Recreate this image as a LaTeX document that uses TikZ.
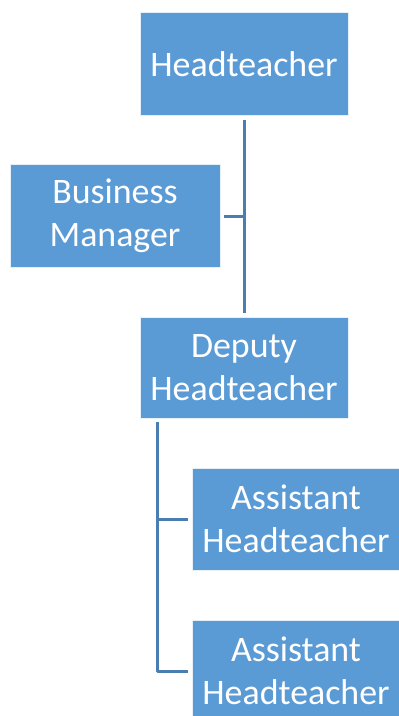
\documentclass[tikz,border=0pt]{standalone}
\usepackage{fontspec}
\setmainfont{Carlito}
\usepackage{tikz}
\usetikzlibrary{arrows.meta}
\usetikzlibrary{shapes, positioning}
\definecolor{boxblue}{HTML}{5B9BD5}
\definecolor{lineblue}{HTML}{4A7EB0}

\begin{document}
\begin{tikzpicture}[>=latex,line join=bevel,
  role/.style={draw=white!85!boxblue,line width=0.8bp,fill=boxblue,text=white,
    minimum width=208bp,minimum height=103bp,inner sep=0bp,align=center,
    font=\fontsize{36}{43}\selectfont},
  conn/.style={lineblue,line width=3bp}]
%%
\useasboundingbox (0bp,0bp) rectangle (399bp,-716bp);
\clip (0bp,0bp) rectangle (399bp,-716bp);
\node (node_head) at (244bp,-64bp) [role] {Headteacher};
  \node (node_bm) at (115bp,-216bp) [role,minimum width=210bp] {Business\\Manager};
  \node (node_deputy) at (244bp,-367.5bp) [role,minimum height=101bp] {Deputy\\Headteacher};
  \node (node_asst_1) at (296bp,-519bp) [role,minimum width=207bp,minimum height=102bp] {Assistant\\Headteacher};
  \node (node_asst_2) at (296bp,-671bp) [role,minimum width=207bp,minimum height=102bp] {Assistant\\Headteacher};
  \draw [conn] ([yshift=-4bp]node_head.south) -- ([yshift=4bp]node_deputy.north);
  \draw [conn] ([xshift=4bp]node_bm.east) -- (node_bm.east -| node_head.south);
  \draw [conn] ([xshift=18bp,yshift=-4bp]node_deputy.south west) |- ([xshift=-4bp]node_asst_1.west);
  \draw [conn] ([xshift=18bp,yshift=-4bp]node_deputy.south west) |- ([xshift=-4bp]node_asst_2.west);
%
\end{tikzpicture}
\end{document}
